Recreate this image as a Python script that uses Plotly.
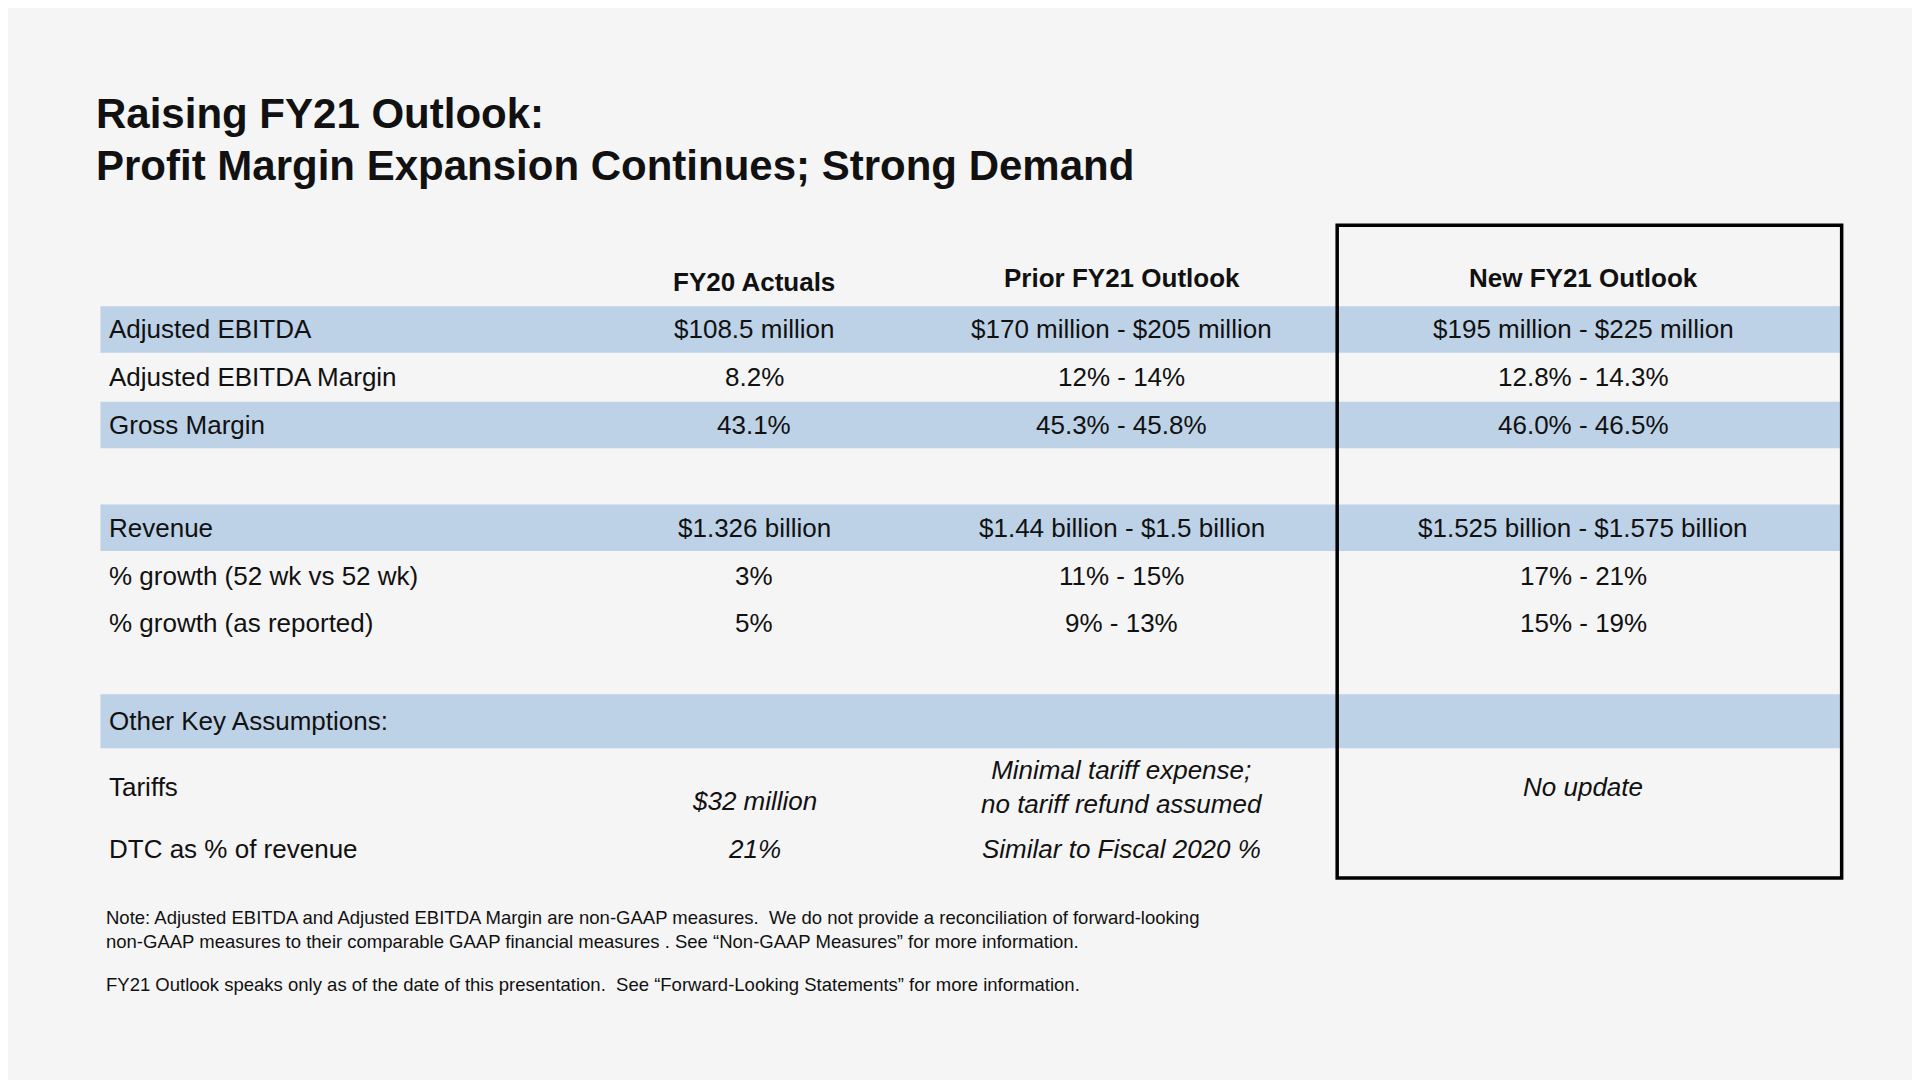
import plotly.graph_objects as go

# Table content
columns = ["FY20 Actuals", "Prior FY21 Outlook", "New FY21 Outlook"]
row_labels = ["Adjusted EBITDA", "Adjusted EBITDA Margin", "Gross Margin",
              "Revenue", "% growth (52 wk vs 52 wk)", "% growth (as reported)"]
fy20 = ["$108.5 million", "8.2%", "43.1%", "$1.326 billion", "3%", "5%"]
prior = ["$170 million - $205 million", "12% - 14%", "45.3% - 45.8%",
         "$1.44 billion - $1.5 billion", "11% - 15%", "9% - 13%"]
new = ["$195 million - $225 million", "12.8% - 14.3%", "46.0% - 46.5%",
       "$1.525 billion - $1.575 billion", "17% - 21%", "15% - 19%"]
shaded = [True, False, True, True, False, False]

other_labels = ["Tariffs", "DTC as % of revenue"]
other_fy20 = ["$32 million", "21%"]
other_prior = ["Minimal tariff expense;<br>no tariff refund assumed", "Similar to Fiscal 2020 %"]
other_new = ["No update", ""]

notes = [
    "Note: Adjusted EBITDA and Adjusted EBITDA Margin are non-GAAP measures.  We do not provide a reconciliation of forward-looking<br>non-GAAP measures to their comparable GAAP financial measures . See \u201cNon-GAAP Measures\u201d for more information.",
    "FY21 Outlook speaks only as of the date of this presentation.  See \u201cForward-Looking Statements\u201d for more information.",
]

# layout (reference pixel grid 1568 x 882); offset compensates page margin
W, H = 1568, 882
OFF = 6.5
col_x = [616, 916, 1293]
row_y = [269, 308, 347, 431, 470, 509]
band_h = 38
FONT = "Liberation Sans"
BLUE = "#bdd2e7"

fig = go.Figure()
shapes, ann = [], []

def text(x, y, s, size=26, bold=False, italic=False, anchor="center"):
    ann.append(dict(x=x, y=y, xref="x", yref="y", text=s, showarrow=False,
                    xanchor=anchor, yanchor="middle", align="center" if anchor == "center" else "left",
                    font=dict(family=FONT, size=size, color="#111",
                              weight="bold" if bold else "normal",
                              style="italic" if italic else "normal")))

text(77, 93, "Raising FY21 Outlook:", size=42, bold=True, anchor="left")
text(77, 135, "Profit Margin Expansion Continues; Strong Demand", size=42, bold=True, anchor="left")

for cx, cy, c in zip(col_x, [230, 227, 227], columns):
    text(cx, cy, c, bold=True)

for y, lab, a, b, c, s in zip(row_y, row_labels, fy20, prior, new, shaded):
    if s:
        shapes.append(dict(type="rect", xref="x", yref="y", x0=82, x1=1503,
                           y0=y - band_h / 2, y1=y + band_h / 2, fillcolor=BLUE, line_width=0, layer="below"))
    text(87, y, lab, anchor="left")
    for cx, v in zip(col_x, [a, b, c]):
        text(cx, y, v)

shapes.append(dict(type="rect", xref="x", yref="y", x0=82, x1=1503, y0=567, y1=611,
                   fillcolor=BLUE, line_width=0, layer="below"))
text(87, 589, "Other Key Assumptions:", anchor="left")

for y, yf, lab, a, b, c in zip([643, 693], [654, 693], other_labels, other_fy20, other_prior, other_new):
    text(87, y, lab, anchor="left")
    text(col_x[0], yf, a, italic=True)
    text(col_x[1], y, b, italic=True)
    text(col_x[2], y, c, italic=True)

shapes.append(dict(type="rect", xref="x", yref="y", x0=1092, x1=1504, y0=184, y1=717,
                   line=dict(color="#000", width=3.5), fillcolor="rgba(0,0,0,0)"))

text(85, 759, notes[0], size=18.5, anchor="left")
text(85, 804, notes[1], size=18.5, anchor="left")

fig.update_layout(
    width=1920, height=1080, margin=dict(l=0, r=0, t=0, b=0),
    paper_bgcolor="#f5f5f5", plot_bgcolor="#f5f5f5",
    xaxis=dict(range=[OFF, W + OFF], visible=False, fixedrange=True),
    yaxis=dict(range=[H + OFF, OFF], visible=False, fixedrange=True),
    shapes=shapes, annotations=ann, showlegend=False,
)

fig.write_html("out.html", config={"displayModeBar": False})
